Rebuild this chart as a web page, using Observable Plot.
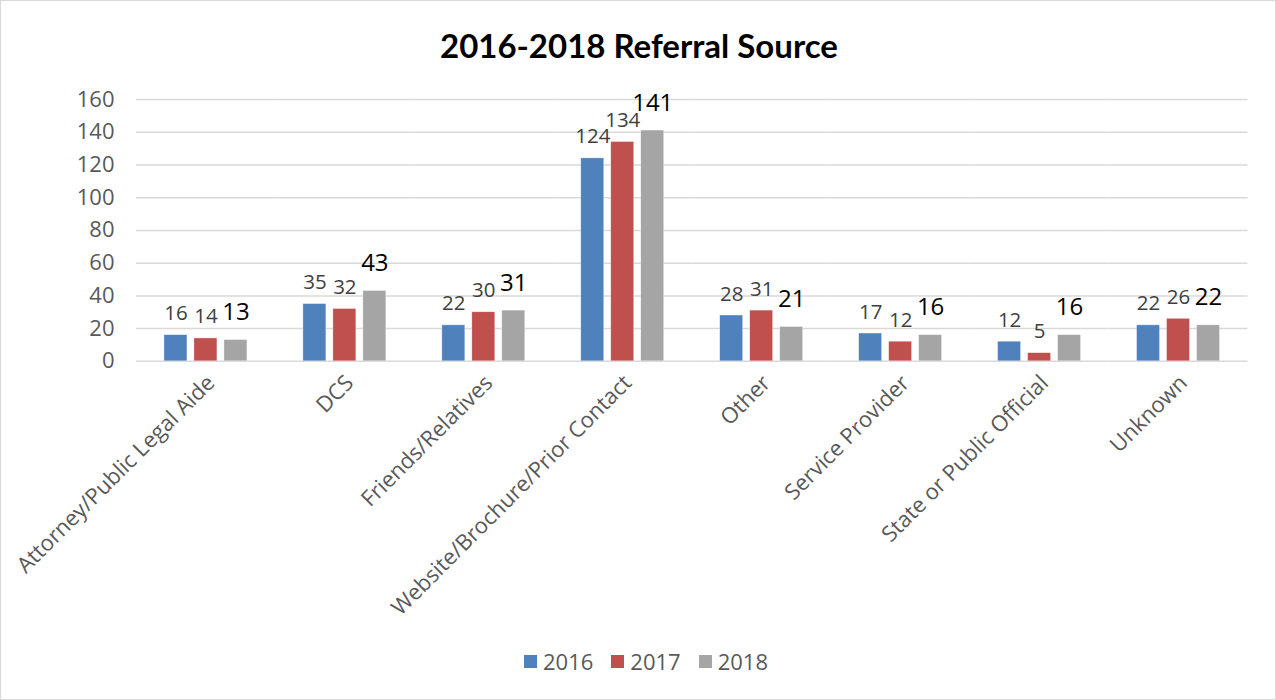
<!DOCTYPE html>
<html>
<head>
<meta charset="utf-8">
<script src="https://cdn.jsdelivr.net/npm/d3@7"></script>
<script src="https://cdn.jsdelivr.net/npm/@observablehq/plot@0.6"></script>
<style>
  html, body { margin: 0; padding: 0; background: #fff; }
  #frame { position: relative; width: 1276px; height: 700px; box-sizing: border-box; border: 1.5px solid #d9d9d9; overflow: hidden; background: #fff; }
  #title { position: absolute; left: 0; width: 1276px; top: 22px; text-align: center; font-family: Lato, "Open Sans", sans-serif; font-weight: 700; font-size: 33px; color: #000; line-height: 44px; }
  #chart { position: absolute; left: -1.5px; top: -1.5px; }
  #legend { position: absolute; top: 645px; left: 523px; display: flex; align-items: center; font-family: "Open Sans", sans-serif; font-size: 22px; color: #595959; }
  .item { display: flex; align-items: center; margin-right: 18px; }
  .sw { width: 13px; height: 13px; margin-right: 6px; }
</style>
</head>
<body>
<div id="frame">
  <div id="title">2016-2018 Referral Source</div>
  <div id="chart"></div>
  <div id="legend"></div>
</div>
<script>
const categories = [
  "Attorney/Public Legal Aide",
  "DCS",
  "Friends/Relatives",
  "Website/Brochure/Prior Contact",
  "Other",
  "Service Provider",
  "State or Public Official",
  "Unknown"
];
const years = ["2016", "2017", "2018"];
const values2016 = [16, 35, 22, 124, 28, 17, 12, 22];
const values2017 = [14, 32, 30, 134, 31, 12, 5, 26];
const values2018 = [13, 43, 31, 141, 21, 16, 16, 22];
const yTicks = [0, 20, 40, 60, 80, 100, 120, 140, 160];
const colors = ["#4F81BD", "#C0504D", "#A5A5A5"];

const series = [values2016, values2017, values2018];
const data = categories.flatMap((c, i) =>
  years.map((y, j) => ({category: c, year: y, value: series[j][i]}))
);

const chart = Plot.plot({
  width: 1276,
  height: 640,
  marginLeft: 136,
  marginRight: 28,
  marginTop: 99,
  marginBottom: 279,
  style: {fontFamily: "'Open Sans', sans-serif", background: "transparent"},
  fx: {domain: categories, padding: 0, label: null},
  x: {domain: years, paddingInner: 0.226, paddingOuter: 0.855, axis: null},
  y: {domain: [0, 160], label: null},
  color: {domain: years, range: colors},
  marks: [
    Plot.gridY(yTicks, {stroke: "#d9d9d9", strokeOpacity: 1, strokeWidth: 1.5}),
    Plot.barY(data, {fx: "category", x: "year", y: "value", fill: "year", stroke: "#ffffff", strokeWidth: 0.6, strokeOpacity: 0.6}),
    Plot.text(data.filter(d => d.year !== "2018"), {
      fx: "category", x: "year", y: "value", text: d => String(d.value),
      lineAnchor: "bottom", dy: -15, fill: "#404040", fontSize: 20.5
    }),
    Plot.text(data.filter(d => d.year === "2018"), {
      fx: "category", x: "year", y: "value", text: d => String(d.value),
      lineAnchor: "bottom", dy: -20, fill: "#000000", fontSize: 24
    }),
    Plot.axisY({ticks: yTicks, tickSize: 0, tickPadding: 22, fontSize: 22, color: "#595959", label: null}),
    Plot.axisFx({anchor: "bottom", tickRotate: -45, tickSize: 0, tickPadding: 18, dx: 5, fontSize: 22, color: "#595959", label: null})
  ]
});
document.getElementById("chart").appendChild(chart);

const legend = document.getElementById("legend");
years.forEach((y, j) => {
  const it = document.createElement("div");
  it.className = "item";
  const sw = document.createElement("div");
  sw.className = "sw";
  sw.style.background = colors[j];
  const t = document.createElement("span");
  t.textContent = y;
  it.appendChild(sw);
  it.appendChild(t);
  legend.appendChild(it);
});
</script>
</body>
</html>
